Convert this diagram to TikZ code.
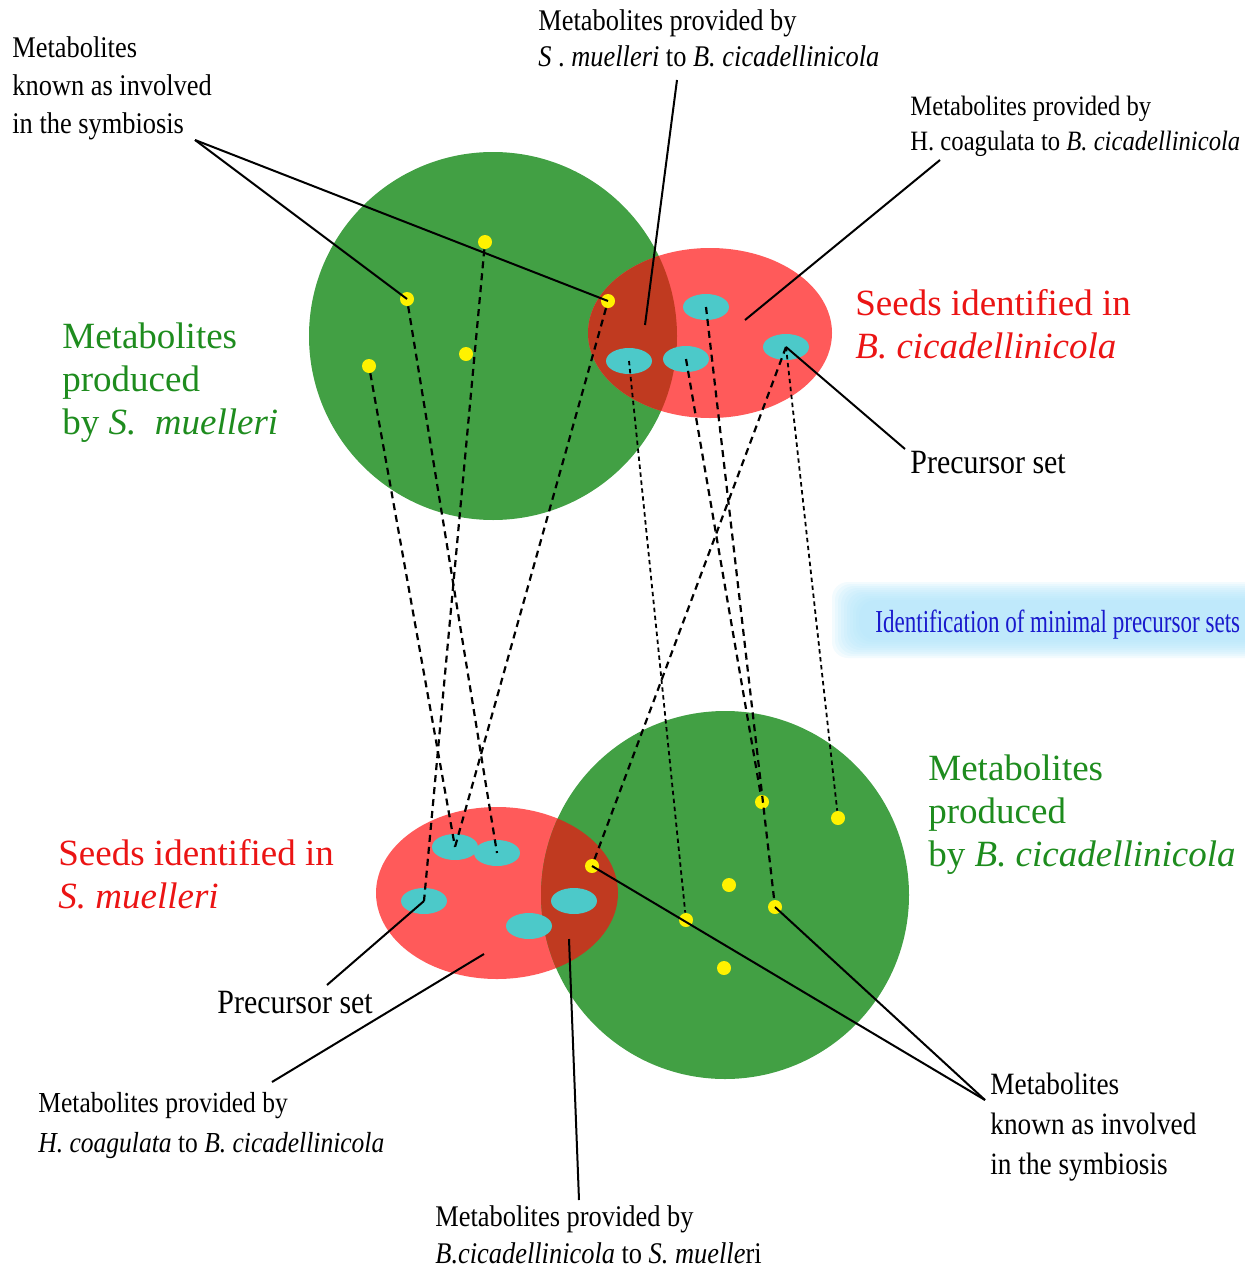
\documentclass[tikz,border=0pt]{standalone}
\usepackage{fontspec}
\setmainfont{Liberation Serif}[FakeStretch=0.88]
\newfontfamily\headfont{Liberation Serif}
\newfontfamily\narrowfont{Liberation Serif}[FakeStretch=0.72]
\usetikzlibrary{calc,shapes.geometric}
\definecolor{cellgreen}{RGB}{66,160,68}
\definecolor{seedred}{RGB}{255,90,90}
\definecolor{overlapred}{RGB}{192,58,32}
\definecolor{seedcyan}{RGB}{76,201,201}
\definecolor{textgreen}{RGB}{30,140,30}
\definecolor{textred}{RGB}{235,20,20}
\definecolor{textblue}{RGB}{25,25,205}
\definecolor{glowblue}{RGB}{175,228,250}
\tikzset{ lbl/.style = { anchor = base west % black label, base = last line
        , align = left
        , inner sep = 0pt
        , font = \fontsize{15}{18.5}\selectfont
        }
        , ttl/.style = { anchor = base west % coloured title
        , align = left
        , inner sep = 0pt
        , font = \headfont\fontsize{18.5}{21.5}\selectfont
        }
        }

\begin{document}
\begin{tikzpicture}[x=0.5pt, y=-0.5pt,
        dot_style/.style={circle,fill=yellow,inner sep=0pt,minimum size=7pt},
        seed_style/.style={ellipse,fill=seedcyan,inner sep=0pt,minimum width=23pt,minimum height=13pt},
        link_style/.style={draw=black,line width=1pt},
        dash_style/.style={draw=black,line width=1.1pt,dash pattern=on 3.5pt off 2.5pt},
        fine_style/.style={draw=black,line width=0.9pt,dash pattern=on 2.2pt off 1.8pt}]
        \useasboundingbox (0,0) rectangle (1244,1269);

        % glow behind the step name
        \foreach \i in {0,...,9}
            \fill[glowblue, opacity=0.15, rounded corners=8pt] (832+3*\i,582+2*\i) rectangle (1270,658-2*\i);

        % the two organisms and their seed sets
        \fill[cellgreen] (493,336) circle [radius=184];
        \fill[seedred] (710,333) ellipse [x radius=122, y radius=85];
        \begin{scope}
            \clip (493,336) circle [radius=184];
            \fill[overlapred] (710,333) ellipse [x radius=122, y radius=85];
        \end{scope}
        \fill[seedred] (497,893) ellipse [x radius=121, y radius=86];
        \fill[cellgreen] (725,895) circle [radius=184];
        \begin{scope}
            \clip (725,895) circle [radius=184];
            \fill[overlapred] (497,893) ellipse [x radius=121, y radius=86];
        \end{scope}

        \node[seed_style] (bs1) at (706,307) {};
        \node[seed_style] (bs2) at (629,361) {};
        \node[seed_style] (bs3) at (686,359) {};
        \node[seed_style] (bs4) at (786,347) {};
        \node[seed_style] (ss1) at (455,847) {};
        \node[seed_style] (ss2) at (497,853) {};
        \node[seed_style] (ss3) at (424,901) {};
        \node[seed_style] (ss4) at (574,901) {};
        \node[seed_style] (ss5) at (529,926) {};

        \node[dot_style] (sm1) at (485,242) {};
        \node[dot_style] (sm2) at (407,299) {};
        \node[dot_style] (sm3) at (466,354) {};
        \node[dot_style] (sm4) at (369,366) {};
        \node[dot_style] (sm5) at (608,301) {};
        \node[dot_style] (bc1) at (762,802) {};
        \node[dot_style] (bc2) at (838,818) {};
        \node[dot_style] (bc3) at (592,866) {};
        \node[dot_style] (bc4) at (729,885) {};
        \node[dot_style] (bc5) at (686,920) {};
        \node[dot_style] (bc6) at (775,907) {};
        \node[dot_style] (bc7) at (724,968) {};

        \draw[dash_style] (sm4) -- (ss1.center);
        \draw[dash_style] (sm2) -- (ss2.center);
        \draw[dash_style] (sm1) -- (ss3.center);
        \draw[dash_style] (sm5) -- (ss1.center);
        \draw[fine_style] (bs2.center) -- (bc5);
        \draw[dash_style] (bs3.center) -- (bc1);
        \draw[dash_style] (bs1.center) -- (bc6);
        \draw[dash_style] (bs4.center) -- (bc3);
        \draw[fine_style] (bs4.center) -- (bc2);

        % texts
        \node[lbl, font=\fontsize{15}{19}\selectfont] (known_top) at (12,133) {Metabolites\\known as involved\\in the symbiosis};
        \node[lbl, font=\fontsize{15}{17.5}\selectfont] (prov_sb) at (538,66) {Metabolites provided by\\\textit{S} . \textit{muelleri} to \textit{B. cicadellinicola}};
        \node[lbl, font=\fontsize{14}{17.5}\selectfont] (prov_hb) at (910,150) {Metabolites provided by\\H. coagulata to \textit{B. cicadellinicola}};
        \node[ttl, text=textred] (seeds_b) at (855,358) {Seeds identified in\\\textit{B. cicadellinicola}};
        \node[ttl, text=textgreen] (prod_s) at (62,434) {Metabolites\\produced\\by \textit{S.\ \ muelleri}};
        \node[lbl, font=\fontsize{17}{20}\selectfont] (prec_b) at (910,473) {Precursor set};
        \node[lbl, text=textblue, font=\narrowfont\fontsize{16}{18}\selectfont] (step) at (875,632) {Identification of minimal precursor sets};
        \node[ttl, text=textgreen] (prod_b) at (928,866) {Metabolites\\produced\\by \textit{B. cicadellinicola}};
        \node[ttl, text=textred] (seeds_s) at (58,908) {Seeds identified in\\\textit{S. muelleri}};
        \node[lbl, font=\fontsize{17}{20}\selectfont] (prec_s) at (217,1013) {Precursor set};
        \node[lbl, font=\fontsize{14.5}{20}\selectfont] (prov_hb2) at (38,1152) {Metabolites provided by\\\textit{H. coagulata} to \textit{B. cicadellinicola}};
        \node[lbl, font=\fontsize{15}{18.5}\selectfont] (prov_bs) at (435,1263) {Metabolites provided by\\\textit{B.cicadellinicola} to \textit{S. muelle}ri};
        \node[lbl, font=\fontsize{15.5}{20}\selectfont] (known_bot) at (990,1174) {Metabolites\\known as involved\\in the symbiosis};

        % leaders
        \coordinate (kt) at (195,140);
        \coordinate (kb) at (985,1100);
        \coordinate (sb_top) at (677,80);
        \coordinate (sb_in) at (645,325);
        \coordinate (hb_top) at (940,160);
        \coordinate (hb_in) at (745,320);
        \coordinate (pb_end) at (905,449);
        \coordinate (ps_end) at (327,985);
        \coordinate (hb2_end) at (272,1082);
        \coordinate (hb2_in) at (484,954);
        \coordinate (bs_end) at (579,1200);
        \coordinate (bs_in) at (569,939);
        \draw[link_style] (kt) -- (sm2.center);
        \draw[link_style] (kt) -- (sm5.center);
        \draw[link_style] (sb_top) -- (sb_in);
        \draw[link_style] (hb_top) -- (hb_in);
        \draw[link_style] (bs4.center) -- (pb_end);
        \draw[link_style] (ps_end) -- (ss3.center);
        \draw[link_style] (hb2_end) -- (hb2_in);
        \draw[link_style] (bs_end) -- (bs_in);
        \draw[link_style] (kb) -- (bc3.center);
        \draw[link_style] (kb) -- (bc6.center);
\end{tikzpicture}
\end{document}
